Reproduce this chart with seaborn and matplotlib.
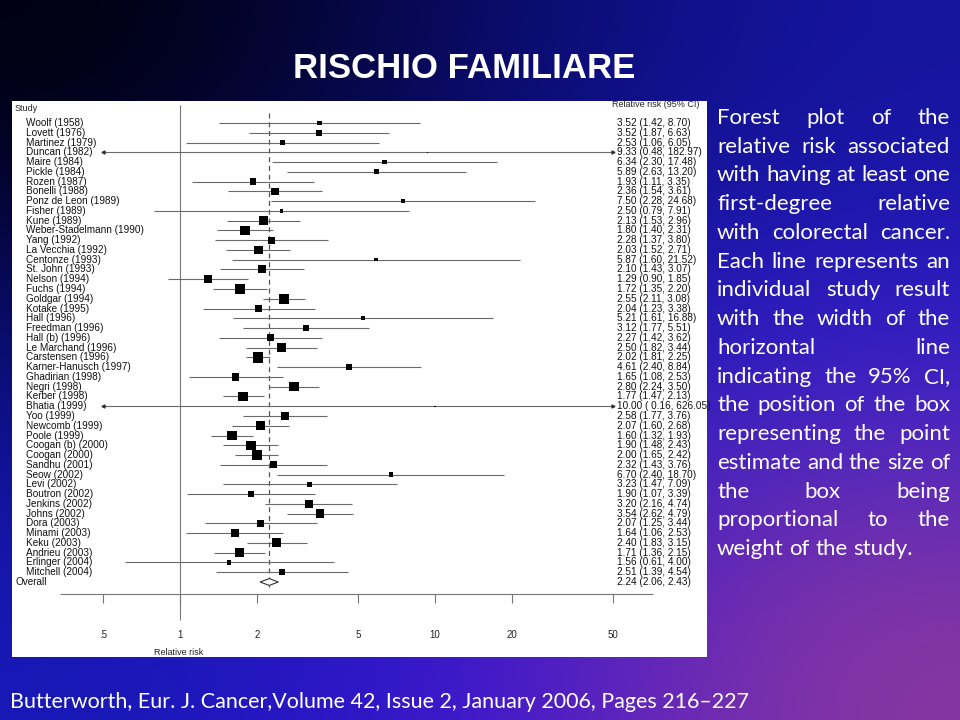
import numpy as np
import matplotlib
matplotlib.use("Agg")
import matplotlib.pyplot as plt
import matplotlib.transforms as mtransforms
import seaborn as sns
import pandas as pd

# data
studies = ["Woolf (1958)", "Lovett (1976)", "Martinez (1979)", "Duncan (1982)", "Maire (1984)",
           "Pickle (1984)", "Rozen (1987)", "Bonelli (1988)", "Ponz de Leon (1989)", "Fisher (1989)",
           "Kune (1989)", "Weber-Stadelmann (1990)", "Yang (1992)", "La Vecchia (1992)", "Centonze (1993)",
           "St. John (1993)", "Nelson (1994)", "Fuchs (1994)", "Goldgar (1994)", "Kotake (1995)",
           "Hall (1996)", "Freedman (1996)", "Hall (b) (1996)", "Le Marchand (1996)", "Carstensen (1996)",
           "Karner-Hanusch (1997)", "Ghadirian (1998)", "Negri (1998)", "Kerber (1998)", "Bhatia (1999)",
           "Yoo (1999)", "Newcomb (1999)", "Poole (1999)", "Coogan (b) (2000)", "Coogan (2000)",
           "Sandhu (2001)", "Seow (2002)", "Levi (2002)", "Boutron (2002)", "Jenkins (2002)",
           "Johns (2002)", "Dora (2003)", "Minami (2003)", "Keku (2003)", "Andrieu (2003)",
           "Erlinger (2004)", "Mitchell (2004)"]
rr = [3.52, 3.52, 2.53, 9.33, 6.34, 5.89, 1.93, 2.36, 7.50, 2.50,
      2.13, 1.80, 2.28, 2.03, 5.87, 2.10, 1.29, 1.72, 2.55, 2.04,
      5.21, 3.12, 2.27, 2.50, 2.02, 4.61, 1.65, 2.80, 1.77, 10.00,
      2.58, 2.07, 1.60, 1.90, 2.00, 2.32, 6.70, 3.23, 1.90, 3.20,
      3.54, 2.07, 1.64, 2.40, 1.71, 1.56, 2.51]
lo = [1.42, 1.87, 1.06, 0.48, 2.30, 2.63, 1.11, 1.54, 2.28, 0.79,
      1.53, 1.40, 1.37, 1.52, 1.60, 1.43, 0.90, 1.35, 2.11, 1.23,
      1.61, 1.77, 1.42, 1.82, 1.81, 2.40, 1.08, 2.24, 1.47, 0.16,
      1.77, 1.60, 1.32, 1.48, 1.65, 1.43, 2.40, 1.47, 1.07, 2.16,
      2.62, 1.25, 1.06, 1.83, 1.36, 0.61, 1.39]
hi = [8.70, 6.63, 6.05, 182.97, 17.48, 13.20, 3.35, 3.61, 24.68, 7.91,
      2.96, 2.31, 3.80, 2.71, 21.52, 3.07, 1.85, 2.20, 3.08, 3.38,
      16.88, 5.51, 3.62, 3.44, 2.25, 8.84, 2.53, 3.50, 2.13, 626.05,
      3.76, 2.68, 1.93, 2.43, 2.42, 3.76, 18.70, 7.09, 3.39, 4.74,
      4.79, 3.44, 2.53, 3.15, 2.15, 4.00, 4.54]
overall = [2.24, 2.06, 2.43]
xticks = [0.5, 1, 2, 5, 10, 20, 50]
xticklabels = [".5", "1", "2", "5", "10", "20", "50"]

title = "RISCHIO FAMILIARE"
caption = ["Forest plot of the", "relative risk associated", "with having at least one",
           "first-degree relative", "with colorectal cancer.", "Each line represents an",
           "individual study result", "with the width of the", "horizontal line",
           "indicating the 95% CI,", "the position of the box", "representing the point",
           "estimate and the size of", "the box being", "proportional to the",
           "weight of the study."]
source = "Butterworth, Eur. J. Cancer,Volume 42, Issue 2, January 2006, Pages 216\u2013227"

df = pd.DataFrame({"study": studies, "rr": rr, "lo": lo, "hi": hi})
df["row"] = np.arange(len(df))
# box area ~ random-effects style weight from the CI width
se = (np.log(df["hi"]) - np.log(df["lo"])) / (2 * 1.96)
df["w"] = 1 / (se ** 2 + 0.05)
n = len(df)
W, H = 960, 720

sns.set_theme(style="white")
plt.rcParams["font.family"] = ["Liberation Sans", "DejaVu Sans"]

fig = plt.figure(figsize=(9.6, 7.2), dpi=100)

# gradient background
bg = fig.add_axes([0, 0, 1, 1], zorder=-10)
grad = np.array([
    [[0.00, 0.00, 0.04], [0.03, 0.04, 0.40], [0.08, 0.08, 0.62]],
    [[0.04, 0.05, 0.48], [0.09, 0.09, 0.72], [0.20, 0.12, 0.82]],
    [[0.09, 0.10, 0.72], [0.24, 0.08, 0.84], [0.55, 0.22, 0.62]],
])
bg.imshow(grad, extent=[0, 1, 0, 1], aspect="auto", interpolation="bicubic")
bg.set_axis_off()

# white forest plot panel
px0, px1, py0, py1 = 12, 707, 101, 657
ax = fig.add_axes([px0 / W, 1 - py1 / H, (px1 - px0) / W, (py1 - py0) / H])
ax.set_facecolor("white")
ax.set_xscale("log")
ax.set_xlim(10 ** ((px0 - 180) / 255), 10 ** ((px1 - 180) / 255))
row_top, dy = 123, (582 - 123) / n
ax.set_ylim((py1 - row_top) / dy, (py0 - row_top) / dy)
for s in ax.spines.values():
    s.set_visible(False)
ax.set_xticks([])
ax.set_yticks([])
ax.minorticks_off()

line_col = "#6a6a6a"
lo_c = df["lo"].clip(lower=0.5)
hi_c = df["hi"].clip(upper=50)
ax.hlines(df["row"], lo_c, hi_c, color=line_col, lw=0.8, zorder=2)
left_cut = df[df["lo"] < 0.5]
right_cut = df[df["hi"] > 50]
ax.plot(left_cut["lo"].clip(lower=0.5), left_cut["row"], "<", color="#333333", ms=2.2, zorder=3)
ax.plot(right_cut["hi"].clip(upper=50), right_cut["row"], ">", color="#333333", ms=2.2, zorder=3)

# reference lines
ax.vlines(1, -1.84, 50.9, color="#777777", lw=0.8, zorder=1)
ax.vlines(overall[0], -1.0, n + 0.5, color="#555555", lw=0.9, linestyles=(0, (4, 3)), zorder=1)

sns.scatterplot(data=df, x="rr", y="row", size="w", sizes=(0, 55), size_norm=(0, df["w"].max()),
                marker="s", color="black", edgecolor="none", legend=False, ax=ax, zorder=4)

# overall diamond
dx = [overall[1], overall[0], overall[2], overall[0], overall[1]]
dyd = [n, n - 0.35, n, n + 0.35, n]
ax.fill(dx, dyd, facecolor="white", edgecolor="#333333", lw=0.8, zorder=5)

# x axis drawn by hand in the Stata style
axis_y = (594 - row_top) / dy
tick_end = (603 - row_top) / dy
ax.hlines(axis_y, 10 ** ((60 - 180) / 255), 10 ** ((653 - 180) / 255), color="#777777", lw=0.8)
ax.vlines(xticks, axis_y, tick_end, color="#777777", lw=0.8)
lab_y = (635 - row_top) / dy
for t, l in zip(xticks, xticklabels):
    ax.text(t, lab_y, l, ha="center", va="center", fontsize=7, color="#222222")

tr = mtransforms.blended_transform_factory(ax.transAxes, ax.transData)
fx = lambda p: (p - px0) / (px1 - px0)
ax.text(fx(154), (653 - row_top) / dy, "Relative risk", transform=tr, ha="left", va="center",
        fontsize=6.5, color="#222222")
ax.text(fx(15), (109 - row_top) / dy, "Study", transform=tr, ha="left", va="center",
        fontsize=6.5, color="#222222")
ax.text(fx(612), (105 - row_top) / dy, "Relative risk (95% CI)", transform=tr, ha="left",
        va="center", fontsize=6.5, color="#222222")
for _, r in df.iterrows():
    ax.text(fx(26), r["row"], r["study"], transform=tr, ha="left", va="center", fontsize=7.2,
            color="#111111")
    lo_s = f"{r['lo']:5.2f}" if r["rr"] >= 10 else f"{r['lo']:.2f}"
    ax.text(fx(617), r["row"], f"{r['rr']:.2f} ({lo_s}, {r['hi']:.2f})", transform=tr,
            ha="left", va="center", fontsize=7.2, color="#111111")
ax.text(fx(15), n, "Overall", transform=tr, ha="left", va="center", fontsize=7.2, color="#111111")
ax.text(fx(617), n, f"{overall[0]:.2f} ({overall[1]:.2f}, {overall[2]:.2f})", transform=tr,
        ha="left", va="center", fontsize=7.2, color="#111111")

# title and source
fig.text(464 / W, 1 - 68 / H, title, ha="center", va="center", fontsize=25, fontweight="bold",
         color="white", family=["Liberation Sans", "DejaVu Sans"])
fig.text(10 / W, 1 - 708 / H, source, ha="left", va="baseline", fontsize=15.5, color="white",
         family=["Lato", "DejaVu Sans"])

# justified side text
renderer = fig.canvas.get_renderer()
cx0, cx1 = 717, 950
base0, lead = 124, (555 - 124) / 15
for i, line in enumerate(caption):
    y = 1 - (base0 + i * lead) / H
    words = line.split()
    txts = [fig.text(0, y, w_, ha="left", va="baseline", fontsize=16, color="white",
                     family=["Lato", "DejaVu Sans"]) for w_ in words]
    widths = [t.get_window_extent(renderer).width for t in txts]
    if i == len(caption) - 1 or len(words) == 1:
        space = txts[0].get_fontsize() * 0.26 * 100 / 72
    else:
        space = (cx1 - cx0 - sum(widths)) / (len(words) - 1)
    x = cx0
    for t, wd in zip(txts, widths):
        t.set_x(x / W)
        x += wd + space

fig.savefig("out.png", dpi=100)
